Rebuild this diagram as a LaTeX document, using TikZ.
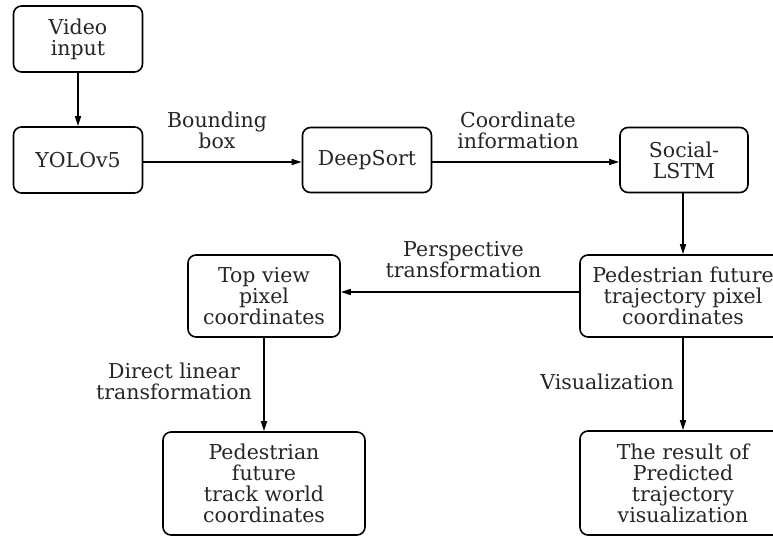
\documentclass[tikz,border=0pt]{standalone}
\usepackage{fontspec}
\setmainfont{DejaVu Serif}
\usetikzlibrary{arrows.meta}
\begin{document}
\begin{tikzpicture}[x=1pt,y=-1pt,
  txt/.style={font=\fontsize{20.5}{21}\selectfont, text=black!85, align=center, inner sep=0pt},
  blk/.style={txt, draw=black, line width=1.6pt, rounded corners=8pt},
  lbl/.style={txt},
  conn/.style={line width=1.5pt, -{Triangle[length=10pt,width=6pt]}}]
\useasboundingbox (0,0) rectangle (773,537);
% process boxes
\node[blk, minimum width=129pt, minimum height=66pt]  (video)  at (78,39)     {Video\\input};
\node[blk, minimum width=129pt, minimum height=66pt]  (yolo)   at (78,160)    {YOLOv5};
\node[blk, minimum width=129pt, minimum height=65pt]  (deep)   at (367,160)   {DeepSort};
\node[blk, minimum width=128pt, minimum height=65pt]  (social) at (684,160)   {Social-\\LSTM};
\node[blk, minimum width=206pt, minimum height=82pt]  (traj)   at (683,296)   {Pedestrian future\\trajectory pixel\\coordinates};
\node[blk, minimum width=152pt, minimum height=82pt]  (top)    at (264,296)   {Top view\\pixel\\coordinates};
\node[blk, minimum width=202pt, minimum height=103pt] (world)  at (264,483.5) {Pedestrian\\future\\track world\\coordinates};
\node[blk, minimum width=206pt, minimum height=104pt] (result) at (683,483)   {The result of\\Predicted\\trajectory\\visualization};
% connectors
\draw[conn] (video) -- (yolo);
\draw[conn] (yolo.east |- 0,162) -- (deep.west |- 0,162);
\draw[conn] (deep.east |- 0,162) -- (social.west |- 0,162);
\draw[conn] (social.south -| traj.north) -- (traj.north);
\draw[conn] (traj.west |- 0,292) -- (top.east |- 0,292);
\draw[conn] (top) -- (world);
\draw[conn] (traj) -- (result);
% connector labels
\node[lbl] (lbbox)  at (217,130)   {Bounding\\box};
\node[lbl] (lcoord) at (518,130)   {Coordinate\\information};
\node[lbl] (lpersp) at (463.5,260) {Perspective\\transformation};
\node[lbl] (ldlt)   at (174,381)   {Direct linear\\transformation};
\node[lbl] (lvis)   at (607,382)   {Visualization};
\end{tikzpicture}
\end{document}
